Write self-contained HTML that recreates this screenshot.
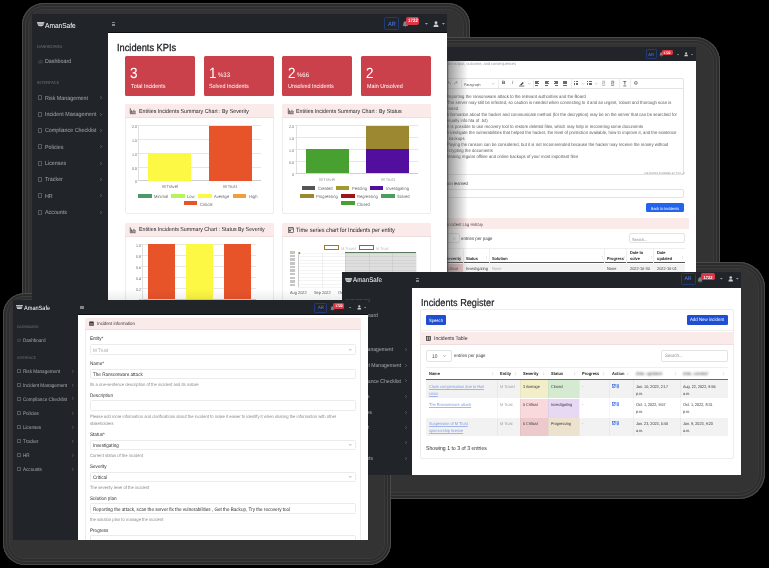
<!DOCTYPE html><html><head><meta charset="utf-8"><style>
html,body{margin:0;padding:0;background:#000;width:769px;height:568px;overflow:hidden;}
body{position:relative;font-family:"Liberation Sans",sans-serif;}
div{position:absolute;box-sizing:border-box;}
.t{white-space:nowrap;text-rendering:geometricPrecision;}
.fr{background:#333;box-shadow:inset 0 0 0 1px #4a4a4a, inset 0 0 0 3px #2c2c2c, inset 0 0 0 4px #3e3e3e, inset 0 0 0 6px #2e2e2e, inset 0 0 0 7px #3a3a3a;}
.scr{overflow:hidden;background:#fff;}
svg{position:absolute;overflow:visible;}
</style></head><body>

<div class="fr" style="left:22px;top:3px;width:448px;height:317px;border-radius:22px"></div>
<div class="fr" style="left:400px;top:37px;width:320px;height:263px;border-radius:25px"></div>
<div class="fr" style="left:300px;top:262px;width:465px;height:237px;border-radius:26px"></div>
<div class="fr" style="left:3px;top:292.5px;width:388px;height:272.5px;border-radius:22px"></div>
<div class="scr" style="left:420px;top:47px;width:275.5px;height:225px">
<div style="left:0.00px;top:0.00px;width:275.50px;height:14.00px;background:#212529"></div>
<div style="left:225.60px;top:2.40px;width:11.70px;height:9.50px;border:0.67px solid #22397a;border-radius:1.14px"></div>
<div class="t" style="left:81.45px;width:300px;text-align:center;top:5.99px;font-size:4.39px;line-height:4.39px;color:#4d7ff5;font-weight:normal;transform:scaleX(0.9091);transform-origin:50% 50%;">AR</div>
<svg style="left:239.39px;top:5.49px" width="4.75" height="4.75" viewBox="0 0 10 10"><path d="M5 0.5 C2.5 0.5 2 3 2 5 L1 7.5 H9 L8 5 C8 3 7.5 0.5 5 0.5 Z M4 8.3 H6 L5 9.8 Z" fill="#80858b"/></svg>
<div style="left:242.00px;top:2.68px;width:10.80px;height:5.23px;background:#dc3545;border-radius:1.43px"></div>
<div class="t" style="left:97.40px;width:300px;text-align:center;top:5.03px;font-size:3.45px;line-height:3.45px;color:#fff;font-weight:bold;transform:scaleX(0.9091);transform-origin:50% 50%;">1722</div>
<svg style="left:257.16px;top:6.67px" width="2.09" height="1.24" viewBox="0 0 6 3.5"><path d="M0 0 H6 L3 3.5 Z" fill="#9ea3a8"/></svg>
<svg style="left:270.75px;top:6.67px" width="2.09" height="1.24" viewBox="0 0 6 3.5"><path d="M0 0 H6 L3 3.5 Z" fill="#9ea3a8"/></svg>
<svg style="left:264.26px;top:5.01px" width="4.28" height="4.28" viewBox="0 0 10 10"><circle cx="5" cy="2.8" r="2.4" fill="#c8ccd0"/><path d="M0.8 10 C0.8 6.5 2.5 5.8 5 5.8 C7.5 5.8 9.2 6.5 9.2 10 Z" fill="#c8ccd0"/></svg>
<div class="t" style="left:27.50px;top:15.18px;font-size:4.29px;line-height:4.29px;color:#9a9a9a;font-weight:normal;transform:scaleX(0.9091);transform-origin:0 50%;">an output, outcome, and consequences</div>
<div class="t" style="left:25.00px;top:25.03px;font-size:4.62px;line-height:4.62px;color:#333;font-weight:normal;transform:scaleX(0.9091);transform-origin:0 50%;">e</div>
<div style="left:10.00px;top:31.00px;width:254.30px;height:97.00px;border:0.6px solid #e3e3e3;border-radius:2px"></div>
<div style="left:10.00px;top:31.00px;width:254.30px;height:10.50px;border-bottom:0.6px solid #e3e3e3"></div>
<svg style="left:26.50px;top:33.80px" width="4" height="4" viewBox="0 0 8 8"><path d="M7 7 C7 3.5 5 2.5 2 2.5 M3.5 0.8 L1.5 2.5 L3.5 4.2" stroke="#666" stroke-width="1" fill="none"/></svg>
<svg style="left:33.50px;top:33.80px" width="4" height="4" viewBox="0 0 8 8"><path d="M1 7 C1 3.5 3 2.5 6 2.5 M4.5 0.8 L6.5 2.5 L4.5 4.2" stroke="#666" stroke-width="1" fill="none"/></svg>
<div style="left:40.50px;top:31.30px;width:0.50px;height:9.90px;background:#ececec"></div>
<div class="t" style="left:43.90px;top:35.86px;font-size:3.91px;line-height:3.91px;color:#555;font-weight:normal;transform:scaleX(0.9091);transform-origin:0 50%;">Paragraph</div>
<svg style="left:72.40px;top:35.52px" width="2.60" height="1.56" viewBox="0 0 6 3.6"><path d="M0.5 0.5 L3 3 L5.5 0.5" stroke="#777" stroke-width="0.9" fill="none"/></svg>
<div style="left:77.70px;top:31.30px;width:0.50px;height:9.90px;background:#ececec"></div>
<div class="t" style="left:82.20px;top:35.43px;font-size:4.84px;line-height:4.84px;color:#444;font-weight:bold;transform:scaleX(0.9091);transform-origin:0 50%;">B</div>
<div class="t" style="left:92.00px;top:35.43px;font-size:4.84px;line-height:4.84px;color:#444;font-weight:normal;transform:scaleX(0.9091);transform-origin:0 50%;font-style:italic">I</div>
<svg style="left:99.00px;top:33.50px" width="5.3" height="5.5" viewBox="0 0 10 10"><path d="M2 7 L7 1.5 L9 3.5 L4 8.5 Z" fill="#444"/><rect x="0" y="8.6" width="10" height="1.4" fill="#444"/></svg>
<svg style="left:107.60px;top:35.52px" width="2.60" height="1.56" viewBox="0 0 6 3.6"><path d="M0.5 0.5 L3 3 L5.5 0.5" stroke="#777" stroke-width="0.9" fill="none"/></svg>
<div style="left:112.80px;top:31.30px;width:0.50px;height:9.90px;background:#ececec"></div>
<div style="left:115.30px;top:34.00px;width:4.20px;height:0.60px;background:#6a6a6a"></div>
<div style="left:115.30px;top:35.20px;width:2.80px;height:0.60px;background:#6a6a6a"></div>
<div style="left:115.30px;top:36.40px;width:4.20px;height:0.60px;background:#6a6a6a"></div>
<div style="left:115.30px;top:37.60px;width:2.80px;height:0.60px;background:#6a6a6a"></div>
<div style="left:124.60px;top:34.00px;width:4.20px;height:0.60px;background:#6a6a6a"></div>
<div style="left:125.30px;top:35.20px;width:2.80px;height:0.60px;background:#6a6a6a"></div>
<div style="left:124.60px;top:36.40px;width:4.20px;height:0.60px;background:#6a6a6a"></div>
<div style="left:125.30px;top:37.60px;width:2.80px;height:0.60px;background:#6a6a6a"></div>
<div style="left:134.00px;top:34.00px;width:4.20px;height:0.60px;background:#6a6a6a"></div>
<div style="left:135.40px;top:35.20px;width:2.80px;height:0.60px;background:#6a6a6a"></div>
<div style="left:134.00px;top:36.40px;width:4.20px;height:0.60px;background:#6a6a6a"></div>
<div style="left:135.40px;top:37.60px;width:2.80px;height:0.60px;background:#6a6a6a"></div>
<div style="left:143.30px;top:34.00px;width:4.20px;height:0.60px;background:#6a6a6a"></div>
<div style="left:143.30px;top:35.20px;width:4.20px;height:0.60px;background:#6a6a6a"></div>
<div style="left:143.30px;top:36.40px;width:4.20px;height:0.60px;background:#6a6a6a"></div>
<div style="left:143.30px;top:37.60px;width:4.20px;height:0.60px;background:#6a6a6a"></div>
<div style="left:150.60px;top:31.30px;width:0.50px;height:9.90px;background:#ececec"></div>
<div style="left:154.00px;top:34.20px;width:0.80px;height:0.70px;background:#6a6a6a"></div>
<div style="left:155.60px;top:34.20px;width:2.70px;height:0.70px;background:#6a6a6a"></div>
<div style="left:154.00px;top:35.70px;width:0.80px;height:0.70px;background:#6a6a6a"></div>
<div style="left:155.60px;top:35.70px;width:2.70px;height:0.70px;background:#6a6a6a"></div>
<div style="left:154.00px;top:37.20px;width:0.80px;height:0.70px;background:#6a6a6a"></div>
<div style="left:155.60px;top:37.20px;width:2.70px;height:0.70px;background:#6a6a6a"></div>
<svg style="left:161.50px;top:35.52px" width="2.60" height="1.56" viewBox="0 0 6 3.6"><path d="M0.5 0.5 L3 3 L5.5 0.5" stroke="#777" stroke-width="0.9" fill="none"/></svg>
<div style="left:167.30px;top:34.20px;width:0.80px;height:0.70px;background:#6a6a6a"></div>
<div style="left:168.90px;top:34.20px;width:2.70px;height:0.70px;background:#6a6a6a"></div>
<div style="left:167.30px;top:35.70px;width:0.80px;height:0.70px;background:#6a6a6a"></div>
<div style="left:168.90px;top:35.70px;width:2.70px;height:0.70px;background:#6a6a6a"></div>
<div style="left:167.30px;top:37.20px;width:0.80px;height:0.70px;background:#6a6a6a"></div>
<div style="left:168.90px;top:37.20px;width:2.70px;height:0.70px;background:#6a6a6a"></div>
<svg style="left:174.80px;top:35.52px" width="2.60" height="1.56" viewBox="0 0 6 3.6"><path d="M0.5 0.5 L3 3 L5.5 0.5" stroke="#777" stroke-width="0.9" fill="none"/></svg>
<svg style="left:181.90px;top:34.00px" width="3.2" height="4.6" viewBox="0 0 6 9"><path d="M0 0.5 H6 M3 3 H6 M3 5.5 H6 M0 8.5 H6 M2 2.8 L0 4.5 L2 6.2" stroke="#777" stroke-width="1" fill="none"/></svg>
<svg style="left:191.30px;top:34.00px" width="3.2" height="4.6" viewBox="0 0 6 9"><path d="M0 0.5 H6 M3 3 H6 M3 5.5 H6 M0 8.5 H6 M0 2.8 L2 4.5 L0 6.2" stroke="#444" stroke-width="1.2" fill="none"/></svg>
<div style="left:198.50px;top:31.30px;width:0.50px;height:9.90px;background:#ececec"></div>
<svg style="left:202.50px;top:33.60px" width="3.6" height="5.4" viewBox="0 0 6 9"><path d="M0.5 0.8 H5.5 M3 0.8 V6 M0.5 8.2 H5.5" stroke="#444" stroke-width="1.2" fill="none"/></svg>
<div style="left:209.60px;top:31.30px;width:0.50px;height:9.90px;background:#ececec"></div>
<svg style="left:214.00px;top:34.20px" width="3.8" height="3.8" viewBox="0 0 10 10"><circle cx="5" cy="5" r="4" stroke="#444" stroke-width="1.4" fill="none"/><path d="M2.5 5.5 H7.5" stroke="#444" stroke-width="1.2"/></svg>
<div class="t" style="left:26.20px;top:48.12px;font-size:4.64px;line-height:4.64px;color:#555;font-weight:normal;transform:scaleX(0.9091);transform-origin:0 50%;letter-spacing:0.03px">Reporting the ransomware attack to the relevant authorities and the Board</div>
<div class="t" style="left:26.50px;top:54.09px;font-size:4.64px;line-height:4.64px;color:#555;font-weight:normal;transform:scaleX(0.9091);transform-origin:0 50%;letter-spacing:0.03px">The server may still be infected, so caution is needed when connecting to it and an urgent, robust and thorough scan is</div>
<div class="t" style="left:23.50px;top:60.06px;font-size:4.64px;line-height:4.64px;color:#555;font-weight:normal;transform:scaleX(0.9091);transform-origin:0 50%;letter-spacing:0.03px">needed</div>
<div class="t" style="left:26.50px;top:66.03px;font-size:4.64px;line-height:4.64px;color:#555;font-weight:normal;transform:scaleX(0.9091);transform-origin:0 50%;letter-spacing:0.03px">Information about the hacker and communicate method (for the decryption) may be on the server that can be searched for</div>
<div class="t" style="left:26.00px;top:72.00px;font-size:4.64px;line-height:4.64px;color:#555;font-weight:normal;transform:scaleX(0.9091);transform-origin:0 50%;letter-spacing:0.03px">usually info.hta of .txt)</div>
<div class="t" style="left:27.00px;top:77.97px;font-size:4.64px;line-height:4.64px;color:#555;font-weight:normal;transform:scaleX(0.9091);transform-origin:0 50%;letter-spacing:0.03px">It is possible to use recovery tool to restore deleted files, which may help in recovering some documents</div>
<div class="t" style="left:26.50px;top:83.94px;font-size:4.64px;line-height:4.64px;color:#555;font-weight:normal;transform:scaleX(0.9091);transform-origin:0 50%;letter-spacing:0.03px">Investigate the vulnerabilities that helped the hacker, the level of protection available, how to improve it, and the existence</div>
<div class="t" style="left:24.00px;top:89.91px;font-size:4.64px;line-height:4.64px;color:#555;font-weight:normal;transform:scaleX(0.9091);transform-origin:0 50%;letter-spacing:0.03px">of backups</div>
<div class="t" style="left:26.50px;top:95.88px;font-size:4.64px;line-height:4.64px;color:#555;font-weight:normal;transform:scaleX(0.9091);transform-origin:0 50%;letter-spacing:0.03px">Paying the ransom can be considered, but it is not recommended because the hacker may receive the money without</div>
<div class="t" style="left:24.00px;top:101.85px;font-size:4.64px;line-height:4.64px;color:#555;font-weight:normal;transform:scaleX(0.9091);transform-origin:0 50%;letter-spacing:0.03px">decrypting the documents</div>
<div class="t" style="left:26.50px;top:107.82px;font-size:4.64px;line-height:4.64px;color:#555;font-weight:normal;transform:scaleX(0.9091);transform-origin:0 50%;letter-spacing:0.03px">Making regular offline and online  backups of your most important files</div>
<div class="t" style="left:-39.00px;width:300px;text-align:right;top:126.16px;font-size:2.64px;line-height:2.64px;color:#888;font-weight:normal;transform:scaleX(0.9091);transform-origin:100% 50%;">108 WORDS POWERED BY TINY</div>
<svg style="left:261.5px;top:124.5px" width="2.5" height="2.5" viewBox="0 0 5 5"><path d="M5 0 L0 5 M5 2.5 L2.5 5" stroke="#777" stroke-width="0.8"/></svg>
<div class="t" style="left:26.00px;top:135.03px;font-size:4.62px;line-height:4.62px;color:#333;font-weight:normal;transform:scaleX(0.9091);transform-origin:0 50%;">son learned</div>
<div style="left:10.00px;top:141.60px;width:254.30px;height:9.50px;border:0.6px solid #e3e3e3;border-radius:2px"></div>
<div style="left:225.60px;top:155.80px;width:38.70px;height:9.50px;background:#2463eb;border-radius:1.5px"></div>
<div class="t" style="left:95.00px;width:300px;text-align:center;top:160.09px;font-size:4.07px;line-height:4.07px;color:#fff;font-weight:normal;transform:scaleX(0.9091);transform-origin:50% 50%;">Back to Incidents</div>
<div style="left:0.00px;top:171.20px;width:268.50px;height:10.40px;background:#fbeaea"></div>
<div class="t" style="left:26.50px;top:175.78px;font-size:4.51px;line-height:4.51px;color:#444;font-weight:normal;transform:scaleX(0.9091);transform-origin:0 50%;">Incident Log History</div>
<div style="left:10.00px;top:186.30px;width:29.50px;height:10.20px;border:0.6px solid #e3e3e3;border-radius:2px"></div>
<svg style="left:33.20px;top:190.72px" width="2.60" height="1.56" viewBox="0 0 6 3.6"><path d="M0.5 0.5 L3 3 L5.5 0.5" stroke="#777" stroke-width="0.9" fill="none"/></svg>
<div class="t" style="left:41.30px;top:190.85px;font-size:4.80px;line-height:4.80px;color:#333;font-weight:normal;transform:scaleX(0.9091);transform-origin:0 50%;">entries per page</div>
<div style="left:208.70px;top:186.20px;width:55.90px;height:10.30px;border:0.6px solid #e3e3e3;border-radius:2px"></div>
<div class="t" style="left:212.00px;top:190.94px;font-size:4.18px;line-height:4.18px;color:#888;font-weight:normal;transform:scaleX(0.9091);transform-origin:0 50%;">Search...</div>
<div style="left:10.00px;top:200.80px;width:254.60px;height:15.60px;border-top:0.5px solid #eee;border-bottom:1px solid #555"></div>
<div style="left:42.90px;top:200.80px;width:0.50px;height:24.20px;background:#eee"></div>
<div style="left:68.90px;top:200.80px;width:0.50px;height:24.20px;background:#eee"></div>
<div style="left:184.30px;top:200.80px;width:0.50px;height:24.20px;background:#eee"></div>
<div style="left:206.00px;top:200.80px;width:0.50px;height:24.20px;background:#eee"></div>
<div style="left:233.00px;top:200.80px;width:0.50px;height:24.20px;background:#eee"></div>
<div class="t" style="left:26.00px;top:209.78px;font-size:4.29px;line-height:4.29px;color:#222;font-weight:bold;transform:scaleX(0.9091);transform-origin:0 50%;">Severity</div>
<div class="t" style="left:45.50px;top:209.78px;font-size:4.29px;line-height:4.29px;color:#222;font-weight:bold;transform:scaleX(0.9091);transform-origin:0 50%;">Status</div>
<div class="t" style="left:71.50px;top:209.78px;font-size:4.29px;line-height:4.29px;color:#222;font-weight:bold;transform:scaleX(0.9091);transform-origin:0 50%;">Solution</div>
<div class="t" style="left:186.60px;top:209.78px;font-size:4.29px;line-height:4.29px;color:#222;font-weight:bold;transform:scaleX(0.9091);transform-origin:0 50%;">Progress</div>
<div class="t" style="left:210.30px;top:204.18px;font-size:4.29px;line-height:4.29px;color:#222;font-weight:bold;transform:scaleX(0.9091);transform-origin:0 50%;">Date to</div>
<div class="t" style="left:210.30px;top:209.98px;font-size:4.29px;line-height:4.29px;color:#222;font-weight:bold;transform:scaleX(0.9091);transform-origin:0 50%;">solve</div>
<div class="t" style="left:237.00px;top:204.18px;font-size:4.29px;line-height:4.29px;color:#222;font-weight:bold;transform:scaleX(0.9091);transform-origin:0 50%;">Date</div>
<div class="t" style="left:237.00px;top:209.98px;font-size:4.29px;line-height:4.29px;color:#222;font-weight:bold;transform:scaleX(0.9091);transform-origin:0 50%;">updated</div>
<svg style="left:40.37px;top:209.10px" width="1.26" height="2.80" viewBox="0 0 4 9"><path d="M0 3.2 L2 0.5 L4 3.2 Z M0 5.8 L2 8.5 L4 5.8 Z" fill="#c0c0c0"/></svg>
<svg style="left:66.37px;top:209.10px" width="1.26" height="2.80" viewBox="0 0 4 9"><path d="M0 3.2 L2 0.5 L4 3.2 Z M0 5.8 L2 8.5 L4 5.8 Z" fill="#c0c0c0"/></svg>
<svg style="left:181.87px;top:209.10px" width="1.26" height="2.80" viewBox="0 0 4 9"><path d="M0 3.2 L2 0.5 L4 3.2 Z M0 5.8 L2 8.5 L4 5.8 Z" fill="#c0c0c0"/></svg>
<svg style="left:203.87px;top:209.10px" width="1.26" height="2.80" viewBox="0 0 4 9"><path d="M0 3.2 L2 0.5 L4 3.2 Z M0 5.8 L2 8.5 L4 5.8 Z" fill="#c0c0c0"/></svg>
<svg style="left:230.87px;top:209.10px" width="1.26" height="2.80" viewBox="0 0 4 9"><path d="M0 3.2 L2 0.5 L4 3.2 Z M0 5.8 L2 8.5 L4 5.8 Z" fill="#c0c0c0"/></svg>
<svg style="left:262.37px;top:209.10px" width="1.26" height="2.80" viewBox="0 0 4 9"><path d="M0 3.2 L2 0.5 L4 3.2 Z M0 5.8 L2 8.5 L4 5.8 Z" fill="#c0c0c0"/></svg>
<div style="left:10.00px;top:216.80px;width:254.60px;height:8.20px;background:#f2f2f2"></div>
<div style="left:10.00px;top:216.80px;width:32.90px;height:8.20px;background:#eccaca"></div>
<div class="t" style="left:26.00px;top:219.88px;font-size:4.29px;line-height:4.29px;color:#444;font-weight:normal;transform:scaleX(0.9091);transform-origin:0 50%;">Critical</div>
<div class="t" style="left:45.50px;top:219.88px;font-size:4.29px;line-height:4.29px;color:#444;font-weight:normal;transform:scaleX(0.9091);transform-origin:0 50%;">Investigating</div>
<div class="t" style="left:71.50px;top:219.88px;font-size:4.29px;line-height:4.29px;color:#aaa;font-weight:normal;transform:scaleX(0.9091);transform-origin:0 50%;">None</div>
<div class="t" style="left:186.60px;top:219.88px;font-size:4.29px;line-height:4.29px;color:#444;font-weight:normal;transform:scaleX(0.9091);transform-origin:0 50%;">None</div>
<div class="t" style="left:210.30px;top:219.88px;font-size:4.29px;line-height:4.29px;color:#444;font-weight:normal;transform:scaleX(0.9091);transform-origin:0 50%;">2022-10-30</div>
<div class="t" style="left:237.00px;top:219.88px;font-size:4.29px;line-height:4.29px;color:#444;font-weight:normal;transform:scaleX(0.9091);transform-origin:0 50%;">2022-10-01</div>
<div style="left:0.00px;top:14.00px;width:55.00px;height:211.00px;background:linear-gradient(to right, rgba(40,40,40,0.85) 0px, rgba(40,40,40,0.85) 27px, rgba(80,80,80,0.55) 29px, rgba(255,255,255,0) 48px)"></div>
</div>
<div class="scr" style="left:32px;top:14px;width:415px;height:286.3px">
<div style="left:0.00px;top:0.00px;width:415.00px;height:18.50px;background:#212529;border-bottom:0.7px solid #0e0f11"></div>
<div style="left:0.00px;top:0.00px;width:76.20px;height:286.30px;background:#212529"></div>
<svg style="left:5.00px;top:7.62px" width="7.35" height="4.76" viewBox="0 0 10 6.5"><path d="M0 0.3 H10 V1.6 H0 Z M0.6 2.2 H9.4 L8.6 4.6 C7.5 6.3 2.5 6.3 1.4 4.6 Z" fill="#f0f0f0"/><path d="M1.2 3.2 H8.8 M1.8 4.2 H8.2" stroke="#212529" stroke-width="0.45"/></svg>
<div class="t" style="left:13.30px;top:7.99px;font-size:7.26px;line-height:7.26px;color:#fff;font-weight:normal;transform:scaleX(0.9091);transform-origin:0 50%;">AmanSafe</div>
<div style="left:79.50px;top:8.25px;width:3.67px;height:0.91px;background:#80858a"></div>
<div style="left:79.50px;top:9.55px;width:3.67px;height:0.91px;background:#80858a"></div>
<div style="left:79.50px;top:10.84px;width:3.67px;height:0.91px;background:#80858a"></div>
<div style="left:352.00px;top:3.00px;width:15.00px;height:13.40px;border:0.94px solid #22397a;border-radius:1.61px"></div>
<div class="t" style="left:209.50px;width:300px;text-align:center;top:7.69px;font-size:6.19px;line-height:6.19px;color:#4d7ff5;font-weight:normal;transform:scaleX(0.9091);transform-origin:50% 50%;">AR</div>
<svg style="left:370.12px;top:7.36px" width="6.70" height="6.70" viewBox="0 0 10 10"><path d="M5 0.5 C2.5 0.5 2 3 2 5 L1 7.5 H9 L8 5 C8 3 7.5 0.5 5 0.5 Z M4 8.3 H6 L5 9.8 Z" fill="#80858b"/></svg>
<div style="left:373.80px;top:3.40px;width:13.70px;height:7.37px;background:#dc3545;border-radius:2.01px"></div>
<div class="t" style="left:230.65px;width:300px;text-align:center;top:6.13px;font-size:4.86px;line-height:4.86px;color:#fff;font-weight:bold;transform:scaleX(0.9091);transform-origin:50% 50%;">1722</div>
<svg style="left:392.53px;top:9.03px" width="2.95" height="1.74" viewBox="0 0 6 3.5"><path d="M0 0 H6 L3 3.5 Z" fill="#9ea3a8"/></svg>
<svg style="left:409.53px;top:9.03px" width="2.95" height="1.74" viewBox="0 0 6 3.5"><path d="M0 0 H6 L3 3.5 Z" fill="#9ea3a8"/></svg>
<svg style="left:401.49px;top:6.68px" width="6.03" height="6.03" viewBox="0 0 10 10"><circle cx="5" cy="2.8" r="2.4" fill="#c8ccd0"/><path d="M0.8 10 C0.8 6.5 2.5 5.8 5 5.8 C7.5 5.8 9.2 6.5 9.2 10 Z" fill="#c8ccd0"/></svg>
<div class="t" style="left:5.00px;top:31.23px;font-size:4.40px;line-height:4.40px;color:rgba(255,255,255,0.32);font-weight:normal;transform:scaleX(0.9091);transform-origin:0 50%;">DASHBOARD</div>
<svg style="left:5.50px;top:45.15px" width="4.81" height="4.49" viewBox="0 0 10 9"><path d="M1 8 A4.2 4.2 0 1 1 9 8 Z" fill="none" stroke="#565a5f" stroke-width="1.3"/><path d="M5 7 L7 3.5" stroke="#565a5f" stroke-width="1.1"/></svg>
<div class="t" style="left:13.33px;top:46.03px;font-size:5.88px;line-height:5.88px;color:rgba(255,255,255,0.56);font-weight:normal;transform:scaleX(0.9091);transform-origin:0 50%;">Dashboard</div>
<div class="t" style="left:5.00px;top:67.33px;font-size:4.40px;line-height:4.40px;color:rgba(255,255,255,0.32);font-weight:normal;transform:scaleX(0.9091);transform-origin:0 50%;">INTERFACE</div>
<div style="left:5.50px;top:81.34px;width:4.92px;height:4.92px;border:0.70px solid #565a5f;border-radius:0.64px"></div>
<div class="t" style="left:12.80px;top:82.53px;font-size:5.88px;line-height:5.88px;color:rgba(255,255,255,0.56);font-weight:normal;transform:scaleX(0.9091);transform-origin:0 50%;">Risk Management</div>
<svg style="left:68.40px;top:82.19px" width="2.03" height="3.21" viewBox="0 0 3.8 6"><path d="M0.6 0.5 L3.1 3 L0.6 5.5" stroke="#9a9ea2" stroke-width="0.9" fill="none"/></svg>
<div style="left:5.50px;top:97.84px;width:4.92px;height:4.92px;border:0.70px solid #565a5f;border-radius:0.64px"></div>
<div class="t" style="left:12.80px;top:99.03px;font-size:5.88px;line-height:5.88px;color:rgba(255,255,255,0.56);font-weight:normal;transform:scaleX(0.9091);transform-origin:0 50%;">Incident Management</div>
<svg style="left:68.40px;top:98.69px" width="2.03" height="3.21" viewBox="0 0 3.8 6"><path d="M0.6 0.5 L3.1 3 L0.6 5.5" stroke="#9a9ea2" stroke-width="0.9" fill="none"/></svg>
<div style="left:5.50px;top:113.84px;width:4.92px;height:4.92px;border:0.70px solid #565a5f;border-radius:0.64px"></div>
<div class="t" style="left:12.80px;top:115.03px;font-size:5.88px;line-height:5.88px;color:rgba(255,255,255,0.56);font-weight:normal;transform:scaleX(0.9091);transform-origin:0 50%;">Compliance Checklist</div>
<svg style="left:68.40px;top:114.70px" width="2.03" height="3.21" viewBox="0 0 3.8 6"><path d="M0.6 0.5 L3.1 3 L0.6 5.5" stroke="#9a9ea2" stroke-width="0.9" fill="none"/></svg>
<div style="left:5.50px;top:130.34px;width:4.92px;height:4.92px;border:0.70px solid #565a5f;border-radius:0.64px"></div>
<div class="t" style="left:12.80px;top:131.53px;font-size:5.88px;line-height:5.88px;color:rgba(255,255,255,0.56);font-weight:normal;transform:scaleX(0.9091);transform-origin:0 50%;">Policies</div>
<svg style="left:68.40px;top:131.20px" width="2.03" height="3.21" viewBox="0 0 3.8 6"><path d="M0.6 0.5 L3.1 3 L0.6 5.5" stroke="#9a9ea2" stroke-width="0.9" fill="none"/></svg>
<div style="left:5.50px;top:146.84px;width:4.92px;height:4.92px;border:0.70px solid #565a5f;border-radius:0.64px"></div>
<div class="t" style="left:12.80px;top:148.03px;font-size:5.88px;line-height:5.88px;color:rgba(255,255,255,0.56);font-weight:normal;transform:scaleX(0.9091);transform-origin:0 50%;">Licenses</div>
<svg style="left:68.40px;top:147.70px" width="2.03" height="3.21" viewBox="0 0 3.8 6"><path d="M0.6 0.5 L3.1 3 L0.6 5.5" stroke="#9a9ea2" stroke-width="0.9" fill="none"/></svg>
<div style="left:5.50px;top:162.84px;width:4.92px;height:4.92px;border:0.70px solid #565a5f;border-radius:0.64px"></div>
<div class="t" style="left:12.80px;top:164.03px;font-size:5.88px;line-height:5.88px;color:rgba(255,255,255,0.56);font-weight:normal;transform:scaleX(0.9091);transform-origin:0 50%;">Tracker</div>
<svg style="left:68.40px;top:163.70px" width="2.03" height="3.21" viewBox="0 0 3.8 6"><path d="M0.6 0.5 L3.1 3 L0.6 5.5" stroke="#9a9ea2" stroke-width="0.9" fill="none"/></svg>
<div style="left:5.50px;top:179.34px;width:4.92px;height:4.92px;border:0.70px solid #565a5f;border-radius:0.64px"></div>
<div class="t" style="left:12.80px;top:180.53px;font-size:5.88px;line-height:5.88px;color:rgba(255,255,255,0.56);font-weight:normal;transform:scaleX(0.9091);transform-origin:0 50%;">HR</div>
<svg style="left:68.40px;top:180.20px" width="2.03" height="3.21" viewBox="0 0 3.8 6"><path d="M0.6 0.5 L3.1 3 L0.6 5.5" stroke="#9a9ea2" stroke-width="0.9" fill="none"/></svg>
<div style="left:5.50px;top:195.84px;width:4.92px;height:4.92px;border:0.70px solid #565a5f;border-radius:0.64px"></div>
<div class="t" style="left:12.80px;top:197.03px;font-size:5.88px;line-height:5.88px;color:rgba(255,255,255,0.56);font-weight:normal;transform:scaleX(0.9091);transform-origin:0 50%;">Accounts</div>
<svg style="left:68.40px;top:196.70px" width="2.03" height="3.21" viewBox="0 0 3.8 6"><path d="M0.6 0.5 L3.1 3 L0.6 5.5" stroke="#9a9ea2" stroke-width="0.9" fill="none"/></svg>
<div class="t" style="left:85.10px;top:30.02px;font-size:10.18px;line-height:10.18px;color:#212529;font-weight:normal;transform:scaleX(0.9091);transform-origin:0 50%;-webkit-text-stroke:0.3px #212529">Incidents KPIs</div>
<div style="left:92.80px;top:41.80px;width:70.20px;height:39.90px;background:#ca414b;border-radius:1.5px"></div>
<div class="t" style="left:98.40px;top:53.02px;font-size:14.85px;line-height:14.85px;color:#fff;font-weight:normal;transform:scaleX(0.9091);transform-origin:0 50%;">3</div>
<div class="t" style="left:98.60px;top:70.81px;font-size:5.94px;line-height:5.94px;color:#fff;font-weight:normal;transform:scaleX(0.9091);transform-origin:0 50%;">Total Incidents</div>
<div style="left:171.50px;top:41.80px;width:70.20px;height:39.90px;background:#ca414b;border-radius:1.5px"></div>
<div class="t" style="left:177.10px;top:53.02px;font-size:14.85px;line-height:14.85px;color:#fff;font-weight:normal;transform:scaleX(0.9091);transform-origin:0 50%;">1</div>
<div class="t" style="left:186.30px;top:59.30px;font-size:6.60px;line-height:6.60px;color:#fff;font-weight:normal;transform:scaleX(0.9091);transform-origin:0 50%;">%33</div>
<div class="t" style="left:177.30px;top:70.81px;font-size:5.94px;line-height:5.94px;color:#fff;font-weight:normal;transform:scaleX(0.9091);transform-origin:0 50%;">Solved Incidents</div>
<div style="left:250.20px;top:41.80px;width:70.20px;height:39.90px;background:#ca414b;border-radius:1.5px"></div>
<div class="t" style="left:255.80px;top:53.02px;font-size:14.85px;line-height:14.85px;color:#fff;font-weight:normal;transform:scaleX(0.9091);transform-origin:0 50%;">2</div>
<div class="t" style="left:265.00px;top:59.30px;font-size:6.60px;line-height:6.60px;color:#fff;font-weight:normal;transform:scaleX(0.9091);transform-origin:0 50%;">%66</div>
<div class="t" style="left:256.00px;top:70.81px;font-size:5.94px;line-height:5.94px;color:#fff;font-weight:normal;transform:scaleX(0.9091);transform-origin:0 50%;">Unsolved Incidents</div>
<div style="left:328.80px;top:41.80px;width:70.20px;height:39.90px;background:#ca414b;border-radius:1.5px"></div>
<div class="t" style="left:334.40px;top:53.02px;font-size:14.85px;line-height:14.85px;color:#fff;font-weight:normal;transform:scaleX(0.9091);transform-origin:0 50%;">2</div>
<div class="t" style="left:334.60px;top:70.81px;font-size:5.94px;line-height:5.94px;color:#fff;font-weight:normal;transform:scaleX(0.9091);transform-origin:0 50%;">Main Unsolved</div>
<div style="left:93.20px;top:90.30px;width:148.40px;height:110.10px;border:0.6px solid #ececec;border-radius:2px;background:#fff"></div>
<div style="left:93.20px;top:90.30px;width:148.40px;height:13.50px;background:#fbeaea;border-bottom:0.6px solid #f0dede;border-radius:2px 2px 0 0"></div>
<svg style="left:98.00px;top:94.05px" width="6.00" height="6.00" viewBox="0 0 10 10"><path d="M0.5 0.5 V9.5 H9.5" stroke="#333" stroke-width="1.2" fill="none"/><path d="M2.5 8 V4 M4.5 8 V5.5 M6.5 8 V3 M8.5 8 V5" stroke="#333" stroke-width="1.3"/></svg>
<div class="t" style="left:106.70px;top:95.95px;font-size:5.84px;line-height:5.84px;color:#212529;font-weight:normal;transform:scaleX(0.9091);transform-origin:0 50%;">Entities Incidents Summary Chart : By Severity</div>
<div style="left:105.20px;top:111.20px;width:123.50px;height:0.60px;background:#e6e6e6"></div>
<div class="t" style="left:-195.30px;width:300px;text-align:right;top:111.04px;font-size:3.96px;line-height:3.96px;color:#666;font-weight:normal;transform:scaleX(0.9091);transform-origin:100% 50%;">2.0</div>
<div style="left:105.20px;top:125.00px;width:123.50px;height:0.60px;background:#e6e6e6"></div>
<div class="t" style="left:-195.30px;width:300px;text-align:right;top:124.84px;font-size:3.96px;line-height:3.96px;color:#666;font-weight:normal;transform:scaleX(0.9091);transform-origin:100% 50%;">1.5</div>
<div style="left:105.20px;top:139.00px;width:123.50px;height:0.60px;background:#e6e6e6"></div>
<div class="t" style="left:-195.30px;width:300px;text-align:right;top:138.84px;font-size:3.96px;line-height:3.96px;color:#666;font-weight:normal;transform:scaleX(0.9091);transform-origin:100% 50%;">1.0</div>
<div style="left:105.20px;top:152.90px;width:123.50px;height:0.60px;background:#e6e6e6"></div>
<div class="t" style="left:-195.30px;width:300px;text-align:right;top:152.74px;font-size:3.96px;line-height:3.96px;color:#666;font-weight:normal;transform:scaleX(0.9091);transform-origin:100% 50%;">0.5</div>
<div style="left:105.20px;top:166.40px;width:123.50px;height:0.60px;background:#e6e6e6"></div>
<div class="t" style="left:-195.30px;width:300px;text-align:right;top:166.24px;font-size:3.96px;line-height:3.96px;color:#666;font-weight:normal;transform:scaleX(0.9091);transform-origin:100% 50%;">0</div>
<div style="left:106.40px;top:111.50px;width:0.60px;height:55.20px;background:#e0e0e0"></div>
<div style="left:106.70px;top:166.30px;width:122.00px;height:0.80px;background:#cfcfcf"></div>
<div style="left:115.80px;top:139.30px;width:43.70px;height:27.40px;background:#fdf843"></div>
<div style="left:176.80px;top:111.50px;width:43.30px;height:55.20px;background:#e8542a"></div>
<div class="t" style="left:-12.00px;width:300px;text-align:center;top:170.88px;font-size:4.51px;line-height:4.51px;color:#666;font-weight:normal;transform:scaleX(0.9091);transform-origin:50% 50%;">M Travel</div>
<div class="t" style="left:48.20px;width:300px;text-align:center;top:170.88px;font-size:4.51px;line-height:4.51px;color:#666;font-weight:normal;transform:scaleX(0.9091);transform-origin:50% 50%;">M Trust</div>
<div style="left:106.00px;top:179.90px;width:13.70px;height:4.20px;background:#4c9a6a"></div>
<div class="t" style="left:122.00px;top:181.28px;font-size:4.51px;line-height:4.51px;color:#666;font-weight:normal;transform:scaleX(0.9091);transform-origin:0 50%;">Minimal</div>
<div style="left:139.40px;top:179.90px;width:13.70px;height:4.20px;background:#b5f55a"></div>
<div class="t" style="left:155.00px;top:181.28px;font-size:4.51px;line-height:4.51px;color:#666;font-weight:normal;transform:scaleX(0.9091);transform-origin:0 50%;">Low</div>
<div style="left:166.40px;top:179.90px;width:13.70px;height:4.20px;background:#fdf843"></div>
<div class="t" style="left:182.20px;top:181.28px;font-size:4.51px;line-height:4.51px;color:#666;font-weight:normal;transform:scaleX(0.9091);transform-origin:0 50%;">Average</div>
<div style="left:200.80px;top:179.90px;width:13.70px;height:4.20px;background:#eea03a"></div>
<div class="t" style="left:216.90px;top:181.28px;font-size:4.51px;line-height:4.51px;color:#666;font-weight:normal;transform:scaleX(0.9091);transform-origin:0 50%;">High</div>
<div style="left:151.60px;top:187.30px;width:13.70px;height:4.20px;background:#e8542a"></div>
<div class="t" style="left:167.70px;top:188.68px;font-size:4.51px;line-height:4.51px;color:#666;font-weight:normal;transform:scaleX(0.9091);transform-origin:0 50%;">Critical</div>
<div style="left:250.30px;top:90.30px;width:148.70px;height:110.10px;border:0.6px solid #ececec;border-radius:2px;background:#fff"></div>
<div style="left:250.30px;top:90.30px;width:148.70px;height:13.50px;background:#fbeaea;border-bottom:0.6px solid #f0dede;border-radius:2px 2px 0 0"></div>
<svg style="left:255.50px;top:94.05px" width="6.00" height="6.00" viewBox="0 0 10 10"><path d="M0.5 0.5 V9.5 H9.5" stroke="#333" stroke-width="1.2" fill="none"/><path d="M2.5 8 V4 M4.5 8 V5.5 M6.5 8 V3 M8.5 8 V5" stroke="#333" stroke-width="1.3"/></svg>
<div class="t" style="left:264.20px;top:95.95px;font-size:5.84px;line-height:5.84px;color:#212529;font-weight:normal;transform:scaleX(0.9091);transform-origin:0 50%;">Entities Incidents Summary Chart : By Status</div>
<div style="left:262.90px;top:111.00px;width:122.70px;height:0.60px;background:#e6e6e6"></div>
<div class="t" style="left:-37.60px;width:300px;text-align:right;top:110.84px;font-size:3.96px;line-height:3.96px;color:#666;font-weight:normal;transform:scaleX(0.9091);transform-origin:100% 50%;">2.0</div>
<div style="left:262.90px;top:122.90px;width:122.70px;height:0.60px;background:#e6e6e6"></div>
<div class="t" style="left:-37.60px;width:300px;text-align:right;top:122.74px;font-size:3.96px;line-height:3.96px;color:#666;font-weight:normal;transform:scaleX(0.9091);transform-origin:100% 50%;">1.5</div>
<div style="left:262.90px;top:135.10px;width:122.70px;height:0.60px;background:#e6e6e6"></div>
<div class="t" style="left:-37.60px;width:300px;text-align:right;top:134.94px;font-size:3.96px;line-height:3.96px;color:#666;font-weight:normal;transform:scaleX(0.9091);transform-origin:100% 50%;">1.0</div>
<div style="left:262.90px;top:146.90px;width:122.70px;height:0.60px;background:#e6e6e6"></div>
<div class="t" style="left:-37.60px;width:300px;text-align:right;top:146.74px;font-size:3.96px;line-height:3.96px;color:#666;font-weight:normal;transform:scaleX(0.9091);transform-origin:100% 50%;">0.5</div>
<div style="left:262.90px;top:158.70px;width:122.70px;height:0.60px;background:#e6e6e6"></div>
<div class="t" style="left:-37.60px;width:300px;text-align:right;top:158.54px;font-size:3.96px;line-height:3.96px;color:#666;font-weight:normal;transform:scaleX(0.9091);transform-origin:100% 50%;">0</div>
<div style="left:264.10px;top:111.30px;width:0.60px;height:47.70px;background:#e0e0e0"></div>
<div style="left:264.40px;top:158.60px;width:121.20px;height:0.80px;background:#cfcfcf"></div>
<div style="left:273.50px;top:135.40px;width:43.10px;height:23.60px;background:#48a030"></div>
<div style="left:334.00px;top:135.40px;width:43.20px;height:23.60px;background:#520f9e"></div>
<div style="left:334.00px;top:111.50px;width:43.20px;height:23.90px;background:#9c8830"></div>
<div class="t" style="left:145.00px;width:300px;text-align:center;top:163.88px;font-size:4.51px;line-height:4.51px;color:#999;font-weight:normal;transform:scaleX(0.9091);transform-origin:50% 50%;filter:blur(0.6px)">M Travel</div>
<div class="t" style="left:205.60px;width:300px;text-align:center;top:163.88px;font-size:4.51px;line-height:4.51px;color:#999;font-weight:normal;transform:scaleX(0.9091);transform-origin:50% 50%;filter:blur(0.6px)">M Trust</div>
<div style="left:269.50px;top:171.90px;width:13.70px;height:4.20px;background:#555555"></div>
<div class="t" style="left:285.50px;top:173.28px;font-size:4.51px;line-height:4.51px;color:#666;font-weight:normal;transform:scaleX(0.9091);transform-origin:0 50%;">Created</div>
<div style="left:303.50px;top:171.90px;width:13.70px;height:4.20px;background:#a09a30"></div>
<div class="t" style="left:319.50px;top:173.28px;font-size:4.51px;line-height:4.51px;color:#666;font-weight:normal;transform:scaleX(0.9091);transform-origin:0 50%;">Pending</div>
<div style="left:337.50px;top:171.90px;width:13.70px;height:4.20px;background:#520f9e"></div>
<div class="t" style="left:353.50px;top:173.28px;font-size:4.51px;line-height:4.51px;color:#666;font-weight:normal;transform:scaleX(0.9091);transform-origin:0 50%;">Investigating</div>
<div style="left:268.00px;top:179.70px;width:13.70px;height:4.20px;background:#9c8830"></div>
<div class="t" style="left:284.00px;top:181.08px;font-size:4.51px;line-height:4.51px;color:#666;font-weight:normal;transform:scaleX(0.9091);transform-origin:0 50%;">Progressing</div>
<div style="left:309.00px;top:179.70px;width:13.70px;height:4.20px;background:#a01515"></div>
<div class="t" style="left:325.00px;top:181.08px;font-size:4.51px;line-height:4.51px;color:#666;font-weight:normal;transform:scaleX(0.9091);transform-origin:0 50%;">Regressing</div>
<div style="left:349.00px;top:179.70px;width:13.70px;height:4.20px;background:#4c9e5c"></div>
<div class="t" style="left:365.00px;top:181.08px;font-size:4.51px;line-height:4.51px;color:#666;font-weight:normal;transform:scaleX(0.9091);transform-origin:0 50%;">Solved</div>
<div style="left:309.00px;top:187.20px;width:13.70px;height:4.20px;background:#48a030"></div>
<div class="t" style="left:325.00px;top:188.58px;font-size:4.51px;line-height:4.51px;color:#666;font-weight:normal;transform:scaleX(0.9091);transform-origin:0 50%;">Closed</div>
<div style="left:93.20px;top:208.80px;width:148.40px;height:97.20px;border:0.6px solid #ececec;border-radius:2px;background:#fff"></div>
<div style="left:93.20px;top:208.80px;width:148.40px;height:14.20px;background:#fbeaea;border-bottom:0.6px solid #f0dede;border-radius:2px 2px 0 0"></div>
<svg style="left:98.00px;top:212.90px" width="6.00" height="6.00" viewBox="0 0 10 10"><path d="M0.5 0.5 V9.5 H9.5" stroke="#333" stroke-width="1.2" fill="none"/><path d="M2.5 8 V4 M4.5 8 V5.5 M6.5 8 V3 M8.5 8 V5" stroke="#333" stroke-width="1.3"/></svg>
<div class="t" style="left:106.70px;top:213.97px;font-size:5.81px;line-height:5.81px;color:#212529;font-weight:normal;transform:scaleX(0.9091);transform-origin:0 50%;">Entities Incidents Summary Chart : Status By Severity</div>
<div style="left:109.00px;top:230.00px;width:115.00px;height:0.60px;background:#e6e6e6"></div>
<div class="t" style="left:-191.50px;width:300px;text-align:right;top:229.84px;font-size:3.96px;line-height:3.96px;color:#666;font-weight:normal;transform:scaleX(0.9091);transform-origin:100% 50%;">1.0</div>
<div style="left:109.00px;top:241.10px;width:115.00px;height:0.60px;background:#e6e6e6"></div>
<div class="t" style="left:-191.50px;width:300px;text-align:right;top:240.94px;font-size:3.96px;line-height:3.96px;color:#666;font-weight:normal;transform:scaleX(0.9091);transform-origin:100% 50%;">0.8</div>
<div style="left:109.00px;top:252.10px;width:115.00px;height:0.60px;background:#e6e6e6"></div>
<div class="t" style="left:-191.50px;width:300px;text-align:right;top:251.94px;font-size:3.96px;line-height:3.96px;color:#666;font-weight:normal;transform:scaleX(0.9091);transform-origin:100% 50%;">0.6</div>
<div style="left:109.00px;top:263.20px;width:115.00px;height:0.60px;background:#e6e6e6"></div>
<div class="t" style="left:-191.50px;width:300px;text-align:right;top:263.04px;font-size:3.96px;line-height:3.96px;color:#666;font-weight:normal;transform:scaleX(0.9091);transform-origin:100% 50%;">0.4</div>
<div style="left:109.00px;top:274.20px;width:115.00px;height:0.60px;background:#e6e6e6"></div>
<div class="t" style="left:-191.50px;width:300px;text-align:right;top:274.04px;font-size:3.96px;line-height:3.96px;color:#666;font-weight:normal;transform:scaleX(0.9091);transform-origin:100% 50%;">0.2</div>
<div style="left:109.00px;top:285.20px;width:115.00px;height:0.60px;background:#e6e6e6"></div>
<div class="t" style="left:-191.50px;width:300px;text-align:right;top:285.04px;font-size:3.96px;line-height:3.96px;color:#666;font-weight:normal;transform:scaleX(0.9091);transform-origin:100% 50%;">0</div>
<div style="left:110.20px;top:230.30px;width:0.60px;height:55.20px;background:#e0e0e0"></div>
<div style="left:110.50px;top:285.10px;width:113.50px;height:0.80px;background:#cfcfcf"></div>
<div style="left:116.20px;top:230.30px;width:27.20px;height:55.20px;background:#e8542a"></div>
<div style="left:154.00px;top:230.30px;width:27.00px;height:55.20px;background:#fdf843"></div>
<div style="left:192.00px;top:230.30px;width:27.00px;height:55.20px;background:#e8542a"></div>
<div style="left:250.30px;top:208.80px;width:148.70px;height:97.20px;border:0.6px solid #ececec;border-radius:2px;background:#fff"></div>
<div style="left:250.30px;top:208.80px;width:148.70px;height:14.20px;background:#fbeaea;border-bottom:0.6px solid #f0dede;border-radius:2px 2px 0 0"></div>
<svg style="left:255.50px;top:212.90px" width="6.00" height="6.00" viewBox="0 0 10 10"><rect x="0.8" y="1.2" width="8.4" height="8" fill="none" stroke="#333" stroke-width="1"/><path d="M0.8 3.5 H9.2 M3 0 V2 M7 0 V2" stroke="#333" stroke-width="1"/><rect x="2" y="5" width="2.5" height="2.5" fill="#333"/></svg>
<div class="t" style="left:264.20px;top:213.82px;font-size:6.14px;line-height:6.14px;color:#212529;font-weight:normal;transform:scaleX(0.9091);transform-origin:0 50%;">Time series chart for Incidents per entity</div>
<div style="left:292.20px;top:231.00px;width:14.50px;height:4.80px;border:0.9px solid #9a7a30;background:#fff"></div>
<div class="t" style="left:308.50px;top:233.04px;font-size:4.18px;line-height:4.18px;color:#bbb;font-weight:normal;transform:scaleX(0.9091);transform-origin:0 50%;filter:blur(0.5px)">M Travel</div>
<div style="left:327.10px;top:231.00px;width:14.60px;height:4.80px;border:0.9px solid #5a7a5a;background:#fff"></div>
<div class="t" style="left:343.50px;top:233.04px;font-size:4.18px;line-height:4.18px;color:#bbb;font-weight:normal;transform:scaleX(0.9091);transform-origin:0 50%;filter:blur(0.5px)">M Trust</div>
<div style="left:313.10px;top:238.90px;width:71.40px;height:34.30px;background:#dedede"></div>
<div style="left:266.10px;top:238.65px;width:118.40px;height:0.50px;background:rgba(0,0,0,0.045)"></div>
<div style="left:266.10px;top:242.08px;width:118.40px;height:0.50px;background:rgba(0,0,0,0.045)"></div>
<div style="left:266.10px;top:245.51px;width:118.40px;height:0.50px;background:rgba(0,0,0,0.045)"></div>
<div style="left:266.10px;top:248.94px;width:118.40px;height:0.50px;background:rgba(0,0,0,0.045)"></div>
<div style="left:266.10px;top:252.37px;width:118.40px;height:0.50px;background:rgba(0,0,0,0.045)"></div>
<div style="left:266.10px;top:255.80px;width:118.40px;height:0.50px;background:rgba(0,0,0,0.045)"></div>
<div style="left:266.10px;top:259.23px;width:118.40px;height:0.50px;background:rgba(0,0,0,0.045)"></div>
<div style="left:266.10px;top:262.66px;width:118.40px;height:0.50px;background:rgba(0,0,0,0.045)"></div>
<div style="left:266.10px;top:266.09px;width:118.40px;height:0.50px;background:rgba(0,0,0,0.045)"></div>
<div style="left:266.10px;top:269.52px;width:118.40px;height:0.50px;background:rgba(0,0,0,0.045)"></div>
<div style="left:266.10px;top:272.95px;width:118.40px;height:0.50px;background:rgba(0,0,0,0.045)"></div>
<div style="left:265.85px;top:238.90px;width:0.50px;height:34.30px;background:rgba(0,0,0,0.05)"></div>
<div style="left:290.05px;top:238.90px;width:0.50px;height:34.30px;background:rgba(0,0,0,0.05)"></div>
<div style="left:312.85px;top:238.90px;width:0.50px;height:34.30px;background:rgba(0,0,0,0.05)"></div>
<div style="left:337.05px;top:238.90px;width:0.50px;height:34.30px;background:rgba(0,0,0,0.05)"></div>
<div style="left:360.25px;top:238.90px;width:0.50px;height:34.30px;background:rgba(0,0,0,0.05)"></div>
<div style="left:384.25px;top:238.90px;width:0.50px;height:34.30px;background:rgba(0,0,0,0.05)"></div>
<div style="left:313.10px;top:238.40px;width:71.40px;height:1.00px;background:#5a7a5a"></div>
<svg style="left:265.50px;top:237.70px" width="2.4" height="2.4"><circle cx="1.2" cy="1.2" r="1.1" fill="#a08040"/></svg>
<div style="left:265.60px;top:238.90px;width:0.80px;height:34.30px;background:#ccc"></div>
<div style="left:257.60px;top:236.70px;width:5px;height:36.5px;background:repeating-linear-gradient(to bottom, rgba(90,90,90,0.35) 0px, rgba(90,90,90,0.35) 2.6px, rgba(255,255,255,0) 2.6px, rgba(255,255,255,0) 3.65px);filter:blur(0.4px)"></div>
<div class="t" style="left:258.10px;top:277.48px;font-size:4.29px;line-height:4.29px;color:#555;font-weight:normal;transform:scaleX(0.9091);transform-origin:0 50%;">Aug 2022</div>
<div class="t" style="left:281.80px;top:277.48px;font-size:4.29px;line-height:4.29px;color:#555;font-weight:normal;transform:scaleX(0.9091);transform-origin:0 50%;">Sep 2022</div>
<div class="t" style="left:305.50px;top:277.48px;font-size:4.29px;line-height:4.29px;color:#555;font-weight:normal;transform:scaleX(0.9091);transform-origin:0 50%;">Oct 2022</div>
<div style="left:76.20px;top:275.00px;width:338.80px;height:11.30px;background:linear-gradient(to bottom, rgba(0,0,0,0), rgba(0,0,0,0.07))"></div>
</div>
<div class="scr" style="left:342px;top:272px;width:399px;height:203px">
<div style="left:0.00px;top:0.00px;width:399.00px;height:16.20px;background:#212529"></div>
<div style="left:0.00px;top:0.00px;width:69.90px;height:203.00px;background:#212529"></div>
<svg style="left:2.60px;top:5.69px" width="7.14" height="4.62" viewBox="0 0 10 6.5"><path d="M0 0.3 H10 V1.6 H0 Z M0.6 2.2 H9.4 L8.6 4.6 C7.5 6.3 2.5 6.3 1.4 4.6 Z" fill="#f0f0f0"/><path d="M1.2 3.2 H8.8 M1.8 4.2 H8.2" stroke="#212529" stroke-width="0.45"/></svg>
<div class="t" style="left:10.90px;top:6.19px;font-size:6.82px;line-height:6.82px;color:#fff;font-weight:normal;transform:scaleX(0.9091);transform-origin:0 50%;">AmanSafe</div>
<div style="left:73.50px;top:6.45px;width:3.68px;height:0.91px;background:#80858a"></div>
<div style="left:73.50px;top:7.75px;width:3.68px;height:0.91px;background:#80858a"></div>
<div style="left:73.50px;top:9.04px;width:3.68px;height:0.91px;background:#80858a"></div>
<div style="left:339.00px;top:1.00px;width:14.60px;height:12.20px;border:0.85px solid #22397a;border-radius:1.46px"></div>
<div class="t" style="left:196.30px;width:300px;text-align:center;top:5.35px;font-size:5.64px;line-height:5.64px;color:#4d7ff5;font-weight:normal;transform:scaleX(0.9091);transform-origin:50% 50%;">AR</div>
<svg style="left:355.35px;top:4.97px" width="6.10" height="6.10" viewBox="0 0 10 10"><path d="M5 0.5 C2.5 0.5 2 3 2 5 L1 7.5 H9 L8 5 C8 3 7.5 0.5 5 0.5 Z M4 8.3 H6 L5 9.8 Z" fill="#80858b"/></svg>
<div style="left:358.70px;top:1.37px;width:14.00px;height:6.71px;background:#dc3545;border-radius:1.83px"></div>
<div class="t" style="left:215.70px;width:300px;text-align:center;top:3.98px;font-size:4.43px;line-height:4.43px;color:#fff;font-weight:bold;transform:scaleX(0.9091);transform-origin:50% 50%;">1722</div>
<svg style="left:377.66px;top:6.49px" width="2.68" height="1.59" viewBox="0 0 6 3.5"><path d="M0 0 H6 L3 3.5 Z" fill="#9ea3a8"/></svg>
<svg style="left:393.66px;top:6.49px" width="2.68" height="1.59" viewBox="0 0 6 3.5"><path d="M0 0 H6 L3 3.5 Z" fill="#9ea3a8"/></svg>
<svg style="left:386.25px;top:4.36px" width="5.49" height="5.49" viewBox="0 0 10 10"><circle cx="5" cy="2.8" r="2.4" fill="#c8ccd0"/><path d="M0.8 10 C0.8 6.5 2.5 5.8 5 5.8 C7.5 5.8 9.2 6.5 9.2 10 Z" fill="#c8ccd0"/></svg>
<div class="t" style="left:3.50px;top:27.44px;font-size:4.18px;line-height:4.18px;color:rgba(255,255,255,0.32);font-weight:normal;transform:scaleX(0.9091);transform-origin:0 50%;">DASHBOARD</div>
<svg style="left:4.00px;top:40.96px" width="4.59" height="4.28" viewBox="0 0 10 9"><path d="M1 8 A4.2 4.2 0 1 1 9 8 Z" fill="none" stroke="#565a5f" stroke-width="1.3"/><path d="M5 7 L7 3.5" stroke="#565a5f" stroke-width="1.1"/></svg>
<div class="t" style="left:10.81px;top:41.86px;font-size:5.61px;line-height:5.61px;color:rgba(255,255,255,0.56);font-weight:normal;transform:scaleX(0.9091);transform-origin:0 50%;">Dashboard</div>
<div class="t" style="left:3.50px;top:60.44px;font-size:4.18px;line-height:4.18px;color:rgba(255,255,255,0.32);font-weight:normal;transform:scaleX(0.9091);transform-origin:0 50%;">INTERFACE</div>
<div style="left:4.00px;top:75.15px;width:4.69px;height:4.69px;border:0.66px solid #565a5f;border-radius:0.61px"></div>
<div class="t" style="left:10.30px;top:76.36px;font-size:5.61px;line-height:5.61px;color:rgba(255,255,255,0.56);font-weight:normal;transform:scaleX(0.9091);transform-origin:0 50%;">Risk Management</div>
<svg style="left:63.20px;top:75.97px" width="1.94" height="3.06" viewBox="0 0 3.8 6"><path d="M0.6 0.5 L3.1 3 L0.6 5.5" stroke="#9a9ea2" stroke-width="0.9" fill="none"/></svg>
<div style="left:4.00px;top:90.95px;width:4.69px;height:4.69px;border:0.66px solid #565a5f;border-radius:0.61px"></div>
<div class="t" style="left:10.30px;top:92.16px;font-size:5.61px;line-height:5.61px;color:rgba(255,255,255,0.56);font-weight:normal;transform:scaleX(0.9091);transform-origin:0 50%;">Incident Management</div>
<svg style="left:63.20px;top:91.77px" width="1.94" height="3.06" viewBox="0 0 3.8 6"><path d="M0.6 0.5 L3.1 3 L0.6 5.5" stroke="#9a9ea2" stroke-width="0.9" fill="none"/></svg>
<div style="left:4.00px;top:106.65px;width:4.69px;height:4.69px;border:0.66px solid #565a5f;border-radius:0.61px"></div>
<div class="t" style="left:10.30px;top:107.86px;font-size:5.61px;line-height:5.61px;color:rgba(255,255,255,0.56);font-weight:normal;transform:scaleX(0.9091);transform-origin:0 50%;">Compliance Checklist</div>
<svg style="left:63.20px;top:107.47px" width="1.94" height="3.06" viewBox="0 0 3.8 6"><path d="M0.6 0.5 L3.1 3 L0.6 5.5" stroke="#9a9ea2" stroke-width="0.9" fill="none"/></svg>
<div style="left:4.00px;top:121.95px;width:4.69px;height:4.69px;border:0.66px solid #565a5f;border-radius:0.61px"></div>
<div class="t" style="left:10.30px;top:123.16px;font-size:5.61px;line-height:5.61px;color:rgba(255,255,255,0.56);font-weight:normal;transform:scaleX(0.9091);transform-origin:0 50%;">Policies</div>
<svg style="left:63.20px;top:122.77px" width="1.94" height="3.06" viewBox="0 0 3.8 6"><path d="M0.6 0.5 L3.1 3 L0.6 5.5" stroke="#9a9ea2" stroke-width="0.9" fill="none"/></svg>
<div style="left:4.00px;top:137.75px;width:4.69px;height:4.69px;border:0.66px solid #565a5f;border-radius:0.61px"></div>
<div class="t" style="left:10.30px;top:138.96px;font-size:5.61px;line-height:5.61px;color:rgba(255,255,255,0.56);font-weight:normal;transform:scaleX(0.9091);transform-origin:0 50%;">Licenses</div>
<svg style="left:63.20px;top:138.57px" width="1.94" height="3.06" viewBox="0 0 3.8 6"><path d="M0.6 0.5 L3.1 3 L0.6 5.5" stroke="#9a9ea2" stroke-width="0.9" fill="none"/></svg>
<div style="left:4.00px;top:153.05px;width:4.69px;height:4.69px;border:0.66px solid #565a5f;border-radius:0.61px"></div>
<div class="t" style="left:10.30px;top:154.26px;font-size:5.61px;line-height:5.61px;color:rgba(255,255,255,0.56);font-weight:normal;transform:scaleX(0.9091);transform-origin:0 50%;">Tracker</div>
<svg style="left:63.20px;top:153.87px" width="1.94" height="3.06" viewBox="0 0 3.8 6"><path d="M0.6 0.5 L3.1 3 L0.6 5.5" stroke="#9a9ea2" stroke-width="0.9" fill="none"/></svg>
<div style="left:4.00px;top:168.45px;width:4.69px;height:4.69px;border:0.66px solid #565a5f;border-radius:0.61px"></div>
<div class="t" style="left:10.30px;top:169.66px;font-size:5.61px;line-height:5.61px;color:rgba(255,255,255,0.56);font-weight:normal;transform:scaleX(0.9091);transform-origin:0 50%;">HR</div>
<svg style="left:63.20px;top:169.27px" width="1.94" height="3.06" viewBox="0 0 3.8 6"><path d="M0.6 0.5 L3.1 3 L0.6 5.5" stroke="#9a9ea2" stroke-width="0.9" fill="none"/></svg>
<div style="left:4.00px;top:184.15px;width:4.69px;height:4.69px;border:0.66px solid #565a5f;border-radius:0.61px"></div>
<div class="t" style="left:10.30px;top:185.36px;font-size:5.61px;line-height:5.61px;color:rgba(255,255,255,0.56);font-weight:normal;transform:scaleX(0.9091);transform-origin:0 50%;">Accounts</div>
<svg style="left:63.20px;top:184.97px" width="1.94" height="3.06" viewBox="0 0 3.8 6"><path d="M0.6 0.5 L3.1 3 L0.6 5.5" stroke="#9a9ea2" stroke-width="0.9" fill="none"/></svg>
<div class="t" style="left:78.80px;top:26.97px;font-size:10.07px;line-height:10.07px;color:#212529;font-weight:normal;transform:scaleX(0.9091);transform-origin:0 50%;-webkit-text-stroke:0.22px #212529">Incidents Register</div>
<div style="left:78.30px;top:37.20px;width:313.30px;height:149.80px;border:0.6px solid #ececec;border-radius:2px"></div>
<div style="left:78.30px;top:57.70px;width:313.30px;height:0.50px;background:#eee"></div>
<div style="left:83.80px;top:43.30px;width:20.00px;height:9.60px;background:#1f4fd1;border-radius:1.2px"></div>
<div class="t" style="left:-56.20px;width:300px;text-align:center;top:47.38px;font-size:4.51px;line-height:4.51px;color:#fff;font-weight:normal;transform:scaleX(0.9091);transform-origin:50% 50%;">Speech</div>
<div style="left:344.80px;top:43.30px;width:41.20px;height:9.60px;background:#1f4fd1;border-radius:1.2px"></div>
<div class="t" style="left:215.40px;width:300px;text-align:center;top:47.23px;font-size:4.84px;line-height:4.84px;color:#fff;font-weight:normal;transform:scaleX(0.9091);transform-origin:50% 50%;">Add New incident</div>
<div style="left:78.30px;top:60.10px;width:313.30px;height:12.70px;border:0.6px solid #ececec;border-radius:2px;background:#fff"></div>
<div style="left:78.30px;top:60.10px;width:313.30px;height:12.70px;background:#fbeaea;border-bottom:0.6px solid #f0dede;border-radius:2px 2px 0 0"></div>
<svg style="left:83.80px;top:63.95px" width="5.00" height="5.00" viewBox="0 0 10 10"><rect x="0.8" y="0.8" width="8.4" height="8.4" fill="none" stroke="#333" stroke-width="1.4"/><path d="M0.8 3.8 H9.2 M0.8 6.4 H9.2 M5 0.8 V9.2" stroke="#333" stroke-width="1.1"/></svg>
<div class="t" style="left:91.80px;top:65.19px;font-size:5.56px;line-height:5.56px;color:#333;font-weight:normal;transform:scaleX(0.9091);transform-origin:0 50%;">Incidents Table</div>
<div style="left:83.80px;top:77.70px;width:25.80px;height:12.50px;border:0.6px solid #e3e3e3;border-radius:2px"></div>
<div class="t" style="left:90.30px;top:83.12px;font-size:5.28px;line-height:5.28px;color:#444;font-weight:normal;transform:scaleX(0.9091);transform-origin:0 50%;">10</div>
<svg style="left:101.30px;top:83.30px" width="3.00" height="1.80" viewBox="0 0 6 3.6"><path d="M0.5 0.5 L3 3 L5.5 0.5" stroke="#555" stroke-width="0.9" fill="none"/></svg>
<div class="t" style="left:112.00px;top:83.35px;font-size:4.80px;line-height:4.80px;color:#333;font-weight:normal;transform:scaleX(0.9091);transform-origin:0 50%;">entries per page</div>
<div style="left:319.00px;top:77.70px;width:67.00px;height:12.50px;border:0.6px solid #e3e3e3;border-radius:2px"></div>
<div class="t" style="left:323.00px;top:83.33px;font-size:4.84px;line-height:4.84px;color:#888;font-weight:normal;transform:scaleX(0.9091);transform-origin:0 50%;">Search...</div>
<div style="left:83.80px;top:95.30px;width:302.20px;height:12.30px;border-top:0.5px solid #eee"></div>
<div style="left:83.80px;top:106.90px;width:302.20px;height:1.20px;background:#6a6a6a"></div>
<div class="t" style="left:86.80px;top:100.13px;font-size:4.40px;line-height:4.40px;color:#222;font-weight:bold;transform:scaleX(0.9091);transform-origin:0 50%;">Name</div>
<svg style="left:149.98px;top:99.60px" width="1.44" height="3.20" viewBox="0 0 4 9"><path d="M0 3.2 L2 0.5 L4 3.2 Z M0 5.8 L2 8.5 L4 5.8 Z" fill="#c0c0c0"/></svg>
<div class="t" style="left:158.30px;top:100.13px;font-size:4.40px;line-height:4.40px;color:#222;font-weight:bold;transform:scaleX(0.9091);transform-origin:0 50%;">Entity</div>
<svg style="left:173.08px;top:99.60px" width="1.44" height="3.20" viewBox="0 0 4 9"><path d="M0 3.2 L2 0.5 L4 3.2 Z M0 5.8 L2 8.5 L4 5.8 Z" fill="#c0c0c0"/></svg>
<div class="t" style="left:181.40px;top:100.13px;font-size:4.40px;line-height:4.40px;color:#222;font-weight:bold;transform:scaleX(0.9091);transform-origin:0 50%;">Severity</div>
<svg style="left:200.68px;top:99.60px" width="1.44" height="3.20" viewBox="0 0 4 9"><path d="M0 3.2 L2 0.5 L4 3.2 Z M0 5.8 L2 8.5 L4 5.8 Z" fill="#c0c0c0"/></svg>
<div class="t" style="left:209.00px;top:100.13px;font-size:4.40px;line-height:4.40px;color:#222;font-weight:bold;transform:scaleX(0.9091);transform-origin:0 50%;">Status</div>
<svg style="left:231.98px;top:99.60px" width="1.44" height="3.20" viewBox="0 0 4 9"><path d="M0 3.2 L2 0.5 L4 3.2 Z M0 5.8 L2 8.5 L4 5.8 Z" fill="#c0c0c0"/></svg>
<div class="t" style="left:240.30px;top:100.13px;font-size:4.40px;line-height:4.40px;color:#222;font-weight:bold;transform:scaleX(0.9091);transform-origin:0 50%;">Progress</div>
<svg style="left:261.18px;top:99.60px" width="1.44" height="3.20" viewBox="0 0 4 9"><path d="M0 3.2 L2 0.5 L4 3.2 Z M0 5.8 L2 8.5 L4 5.8 Z" fill="#c0c0c0"/></svg>
<div class="t" style="left:269.50px;top:100.13px;font-size:4.40px;line-height:4.40px;color:#222;font-weight:bold;transform:scaleX(0.9091);transform-origin:0 50%;">Action</div>
<svg style="left:285.18px;top:99.60px" width="1.44" height="3.20" viewBox="0 0 4 9"><path d="M0 3.2 L2 0.5 L4 3.2 Z M0 5.8 L2 8.5 L4 5.8 Z" fill="#c0c0c0"/></svg>
<div class="t" style="left:293.50px;top:100.13px;font-size:4.40px;line-height:4.40px;color:#666;font-weight:bold;transform:scaleX(0.9091);transform-origin:0 50%;filter:blur(0.9px)">date_updated</div>
<svg style="left:332.68px;top:99.60px" width="1.44" height="3.20" viewBox="0 0 4 9"><path d="M0 3.2 L2 0.5 L4 3.2 Z M0 5.8 L2 8.5 L4 5.8 Z" fill="#c0c0c0"/></svg>
<div class="t" style="left:341.00px;top:100.13px;font-size:4.40px;line-height:4.40px;color:#666;font-weight:bold;transform:scaleX(0.9091);transform-origin:0 50%;filter:blur(0.9px)">date_created</div>
<svg style="left:380.68px;top:99.60px" width="1.44" height="3.20" viewBox="0 0 4 9"><path d="M0 3.2 L2 0.5 L4 3.2 Z M0 5.8 L2 8.5 L4 5.8 Z" fill="#c0c0c0"/></svg>
<div style="left:83.80px;top:108.40px;width:302.20px;height:18.10px;background:#f2f2f2"></div>
<div style="left:178.40px;top:108.40px;width:27.60px;height:18.10px;background:#f2efc8"></div>
<div style="left:206.00px;top:108.40px;width:31.30px;height:18.10px;background:#d5ebd1"></div>
<div style="left:155.30px;top:108.40px;width:0.40px;height:18.10px;background:rgba(0,0,0,0.04)"></div>
<div style="left:178.40px;top:108.40px;width:0.40px;height:18.10px;background:rgba(0,0,0,0.04)"></div>
<div style="left:206.00px;top:108.40px;width:0.40px;height:18.10px;background:rgba(0,0,0,0.04)"></div>
<div style="left:237.30px;top:108.40px;width:0.40px;height:18.10px;background:rgba(0,0,0,0.04)"></div>
<div style="left:266.50px;top:108.40px;width:0.40px;height:18.10px;background:rgba(0,0,0,0.04)"></div>
<div style="left:290.50px;top:108.40px;width:0.40px;height:18.10px;background:rgba(0,0,0,0.04)"></div>
<div style="left:338.00px;top:108.40px;width:0.40px;height:18.10px;background:rgba(0,0,0,0.04)"></div>
<div class="t" style="left:87.00px;top:113.08px;font-size:4.29px;line-height:4.29px;color:#7a9be6;font-weight:normal;transform:scaleX(0.9091);transform-origin:0 50%;text-decoration:underline;text-decoration-color:rgba(110,140,225,0.6);filter:blur(0.45px)">Claim compensation due to Hail</div>
<div class="t" style="left:87.00px;top:119.88px;font-size:4.29px;line-height:4.29px;color:#7a9be6;font-weight:normal;transform:scaleX(0.9091);transform-origin:0 50%;text-decoration:underline;text-decoration-color:rgba(110,140,225,0.6);filter:blur(0.45px)">crisis</div>
<div class="t" style="left:158.00px;top:113.14px;font-size:4.18px;line-height:4.18px;color:#999;font-weight:normal;transform:scaleX(0.9091);transform-origin:0 50%;filter:blur(0.5px)">M Travel</div>
<div class="t" style="left:181.00px;top:113.16px;font-size:4.12px;line-height:4.12px;color:#333;font-weight:normal;transform:scaleX(0.9091);transform-origin:0 50%;">3 Average</div>
<div class="t" style="left:209.00px;top:113.16px;font-size:4.12px;line-height:4.12px;color:#333;font-weight:normal;transform:scaleX(0.9091);transform-origin:0 50%;">Closed</div>
<div class="t" style="left:240.00px;top:113.14px;font-size:4.18px;line-height:4.18px;color:#555;font-weight:normal;transform:scaleX(0.9091);transform-origin:0 50%;">-</div>
<svg style="left:269.50px;top:111.70px" width="8" height="4" viewBox="0 0 16 8"><rect x="0.6" y="1.2" width="5.6" height="6" fill="none" stroke="#2d5fe0" stroke-width="1.2"/><path d="M2.5 5.5 L6.5 0.8" stroke="#2d5fe0" stroke-width="1.4"/><path d="M9 1.2 H14 M10 2.2 V7.5 H13 V2.2 M11.5 3 V6.8" stroke="#2d5fe0" stroke-width="1.1" fill="none"/></svg>
<div class="t" style="left:293.80px;top:113.17px;font-size:4.11px;line-height:4.11px;color:#333;font-weight:normal;transform:scaleX(0.9091);transform-origin:0 50%;">Jan. 10, 2023, 2:17</div>
<div class="t" style="left:293.80px;top:119.97px;font-size:4.11px;line-height:4.11px;color:#333;font-weight:normal;transform:scaleX(0.9091);transform-origin:0 50%;">p.m.</div>
<div class="t" style="left:341.20px;top:113.17px;font-size:4.11px;line-height:4.11px;color:#333;font-weight:normal;transform:scaleX(0.9091);transform-origin:0 50%;">Aug. 22, 2022, 9:56</div>
<div class="t" style="left:341.20px;top:119.97px;font-size:4.11px;line-height:4.11px;color:#333;font-weight:normal;transform:scaleX(0.9091);transform-origin:0 50%;">a.m.</div>
<div style="left:83.80px;top:126.50px;width:302.20px;height:19.20px;background:#ffffff"></div>
<div style="left:178.40px;top:126.50px;width:27.60px;height:19.20px;background:#f9d9db"></div>
<div style="left:206.00px;top:126.50px;width:31.30px;height:19.20px;background:#e7d8f4"></div>
<div style="left:155.30px;top:126.50px;width:0.40px;height:19.20px;background:rgba(0,0,0,0.04)"></div>
<div style="left:178.40px;top:126.50px;width:0.40px;height:19.20px;background:rgba(0,0,0,0.04)"></div>
<div style="left:206.00px;top:126.50px;width:0.40px;height:19.20px;background:rgba(0,0,0,0.04)"></div>
<div style="left:237.30px;top:126.50px;width:0.40px;height:19.20px;background:rgba(0,0,0,0.04)"></div>
<div style="left:266.50px;top:126.50px;width:0.40px;height:19.20px;background:rgba(0,0,0,0.04)"></div>
<div style="left:290.50px;top:126.50px;width:0.40px;height:19.20px;background:rgba(0,0,0,0.04)"></div>
<div style="left:338.00px;top:126.50px;width:0.40px;height:19.20px;background:rgba(0,0,0,0.04)"></div>
<div class="t" style="left:87.00px;top:131.18px;font-size:4.29px;line-height:4.29px;color:#7a9be6;font-weight:normal;transform:scaleX(0.9091);transform-origin:0 50%;text-decoration:underline;text-decoration-color:rgba(110,140,225,0.6);filter:blur(0.45px)">The Ransomware attack</div>
<div class="t" style="left:158.00px;top:131.24px;font-size:4.18px;line-height:4.18px;color:#999;font-weight:normal;transform:scaleX(0.9091);transform-origin:0 50%;filter:blur(0.5px)">M Trust</div>
<div class="t" style="left:181.00px;top:131.26px;font-size:4.12px;line-height:4.12px;color:#333;font-weight:normal;transform:scaleX(0.9091);transform-origin:0 50%;">5 Critical</div>
<div class="t" style="left:209.00px;top:131.26px;font-size:4.12px;line-height:4.12px;color:#333;font-weight:normal;transform:scaleX(0.9091);transform-origin:0 50%;">Investigating</div>
<div class="t" style="left:240.00px;top:131.24px;font-size:4.18px;line-height:4.18px;color:#555;font-weight:normal;transform:scaleX(0.9091);transform-origin:0 50%;">-</div>
<svg style="left:269.50px;top:129.80px" width="8" height="4" viewBox="0 0 16 8"><rect x="0.6" y="1.2" width="5.6" height="6" fill="none" stroke="#2d5fe0" stroke-width="1.2"/><path d="M2.5 5.5 L6.5 0.8" stroke="#2d5fe0" stroke-width="1.4"/><path d="M9 1.2 H14 M10 2.2 V7.5 H13 V2.2 M11.5 3 V6.8" stroke="#2d5fe0" stroke-width="1.1" fill="none"/></svg>
<div class="t" style="left:293.80px;top:131.27px;font-size:4.11px;line-height:4.11px;color:#333;font-weight:normal;transform:scaleX(0.9091);transform-origin:0 50%;">Oct. 1, 2022, 9:57</div>
<div class="t" style="left:293.80px;top:138.07px;font-size:4.11px;line-height:4.11px;color:#333;font-weight:normal;transform:scaleX(0.9091);transform-origin:0 50%;">p.m.</div>
<div class="t" style="left:341.20px;top:131.27px;font-size:4.11px;line-height:4.11px;color:#333;font-weight:normal;transform:scaleX(0.9091);transform-origin:0 50%;">Oct. 1, 2022, 8:31</div>
<div class="t" style="left:341.20px;top:138.07px;font-size:4.11px;line-height:4.11px;color:#333;font-weight:normal;transform:scaleX(0.9091);transform-origin:0 50%;">p.m.</div>
<div style="left:83.80px;top:145.70px;width:302.20px;height:18.80px;background:#f2f2f2"></div>
<div style="left:178.40px;top:145.70px;width:27.60px;height:18.80px;background:#eccacc"></div>
<div style="left:206.00px;top:145.70px;width:31.30px;height:18.80px;background:#ede2cd"></div>
<div style="left:155.30px;top:145.70px;width:0.40px;height:18.80px;background:rgba(0,0,0,0.04)"></div>
<div style="left:178.40px;top:145.70px;width:0.40px;height:18.80px;background:rgba(0,0,0,0.04)"></div>
<div style="left:206.00px;top:145.70px;width:0.40px;height:18.80px;background:rgba(0,0,0,0.04)"></div>
<div style="left:237.30px;top:145.70px;width:0.40px;height:18.80px;background:rgba(0,0,0,0.04)"></div>
<div style="left:266.50px;top:145.70px;width:0.40px;height:18.80px;background:rgba(0,0,0,0.04)"></div>
<div style="left:290.50px;top:145.70px;width:0.40px;height:18.80px;background:rgba(0,0,0,0.04)"></div>
<div style="left:338.00px;top:145.70px;width:0.40px;height:18.80px;background:rgba(0,0,0,0.04)"></div>
<div class="t" style="left:87.00px;top:150.38px;font-size:4.29px;line-height:4.29px;color:#7a9be6;font-weight:normal;transform:scaleX(0.9091);transform-origin:0 50%;text-decoration:underline;text-decoration-color:rgba(110,140,225,0.6);filter:blur(0.45px)">Suspension of M Trust</div>
<div class="t" style="left:87.00px;top:157.18px;font-size:4.29px;line-height:4.29px;color:#7a9be6;font-weight:normal;transform:scaleX(0.9091);transform-origin:0 50%;text-decoration:underline;text-decoration-color:rgba(110,140,225,0.6);filter:blur(0.45px)">sponsorship license</div>
<div class="t" style="left:158.00px;top:150.44px;font-size:4.18px;line-height:4.18px;color:#999;font-weight:normal;transform:scaleX(0.9091);transform-origin:0 50%;filter:blur(0.5px)">M Trust</div>
<div class="t" style="left:181.00px;top:150.46px;font-size:4.12px;line-height:4.12px;color:#333;font-weight:normal;transform:scaleX(0.9091);transform-origin:0 50%;">5 Critical</div>
<div class="t" style="left:209.00px;top:150.46px;font-size:4.12px;line-height:4.12px;color:#333;font-weight:normal;transform:scaleX(0.9091);transform-origin:0 50%;">Progressing</div>
<div class="t" style="left:240.00px;top:150.44px;font-size:4.18px;line-height:4.18px;color:#555;font-weight:normal;transform:scaleX(0.9091);transform-origin:0 50%;">-</div>
<svg style="left:269.50px;top:149.00px" width="8" height="4" viewBox="0 0 16 8"><rect x="0.6" y="1.2" width="5.6" height="6" fill="none" stroke="#2d5fe0" stroke-width="1.2"/><path d="M2.5 5.5 L6.5 0.8" stroke="#2d5fe0" stroke-width="1.4"/><path d="M9 1.2 H14 M10 2.2 V7.5 H13 V2.2 M11.5 3 V6.8" stroke="#2d5fe0" stroke-width="1.1" fill="none"/></svg>
<div class="t" style="left:293.80px;top:150.47px;font-size:4.11px;line-height:4.11px;color:#333;font-weight:normal;transform:scaleX(0.9091);transform-origin:0 50%;">Jan. 23, 2023, 5:40</div>
<div class="t" style="left:293.80px;top:157.27px;font-size:4.11px;line-height:4.11px;color:#333;font-weight:normal;transform:scaleX(0.9091);transform-origin:0 50%;">a.m.</div>
<div class="t" style="left:341.20px;top:150.47px;font-size:4.11px;line-height:4.11px;color:#333;font-weight:normal;transform:scaleX(0.9091);transform-origin:0 50%;">Jan. 9, 2023, 9:20</div>
<div class="t" style="left:341.20px;top:157.27px;font-size:4.11px;line-height:4.11px;color:#333;font-weight:normal;transform:scaleX(0.9091);transform-origin:0 50%;">a.m.</div>
<div class="t" style="left:83.80px;top:175.24px;font-size:5.67px;line-height:5.67px;color:#333;font-weight:normal;transform:scaleX(0.9091);transform-origin:0 50%;">Showing 1 to 3 of 3 entries</div>
</div>
<div class="scr" style="left:13px;top:299.8px;width:355.2px;height:239.99999999999994px">
<div style="left:0.00px;top:0.00px;width:355.20px;height:15.40px;background:#212529;border-bottom:0.6px solid #0e0f11"></div>
<div style="left:0.00px;top:0.00px;width:64.70px;height:240.00px;background:#212529"></div>
<svg style="left:3.10px;top:5.66px" width="6.93" height="4.49" viewBox="0 0 10 6.5"><path d="M0 0.3 H10 V1.6 H0 Z M0.6 2.2 H9.4 L8.6 4.6 C7.5 6.3 2.5 6.3 1.4 4.6 Z" fill="#f0f0f0"/><path d="M1.2 3.2 H8.8 M1.8 4.2 H8.2" stroke="#212529" stroke-width="0.45"/></svg>
<div class="t" style="left:10.80px;top:6.40px;font-size:6.16px;line-height:6.16px;color:#fff;font-weight:normal;transform:scaleX(0.9091);transform-origin:0 50%;">AmanSafe</div>
<div style="left:67.30px;top:6.00px;width:3.78px;height:0.94px;background:#80858a"></div>
<div style="left:67.30px;top:7.33px;width:3.78px;height:0.94px;background:#80858a"></div>
<div style="left:67.30px;top:8.66px;width:3.78px;height:0.94px;background:#80858a"></div>
<div style="left:301.00px;top:2.80px;width:13.30px;height:10.20px;border:0.71px solid #22397a;border-radius:1.22px"></div>
<div class="t" style="left:157.65px;width:300px;text-align:center;top:6.59px;font-size:4.71px;line-height:4.71px;color:#4d7ff5;font-weight:normal;transform:scaleX(0.9091);transform-origin:50% 50%;">AR</div>
<svg style="left:317.00px;top:6.12px" width="5.10" height="5.10" viewBox="0 0 10 10"><path d="M5 0.5 C2.5 0.5 2 3 2 5 L1 7.5 H9 L8 5 C8 3 7.5 0.5 5 0.5 Z M4 8.3 H6 L5 9.8 Z" fill="#80858b"/></svg>
<div style="left:319.80px;top:3.11px;width:11.70px;height:5.61px;background:#dc3545;border-radius:1.53px"></div>
<div class="t" style="left:175.65px;width:300px;text-align:center;top:5.52px;font-size:3.70px;line-height:3.70px;color:#fff;font-weight:bold;transform:scaleX(0.9091);transform-origin:50% 50%;">1722</div>
<svg style="left:336.38px;top:7.39px" width="2.24" height="1.33" viewBox="0 0 6 3.5"><path d="M0 0 H6 L3 3.5 Z" fill="#9ea3a8"/></svg>
<svg style="left:350.68px;top:7.39px" width="2.24" height="1.33" viewBox="0 0 6 3.5"><path d="M0 0 H6 L3 3.5 Z" fill="#9ea3a8"/></svg>
<svg style="left:344.00px;top:5.61px" width="4.59" height="4.59" viewBox="0 0 10 10"><circle cx="5" cy="2.8" r="2.4" fill="#c8ccd0"/><path d="M0.8 10 C0.8 6.5 2.5 5.8 5 5.8 C7.5 5.8 9.2 6.5 9.2 10 Z" fill="#c8ccd0"/></svg>
<div class="t" style="left:3.50px;top:26.54px;font-size:3.74px;line-height:3.74px;color:rgba(255,255,255,0.32);font-weight:normal;transform:scaleX(0.9091);transform-origin:0 50%;">DASHBOARD</div>
<svg style="left:4.00px;top:38.07px" width="4.14" height="3.86" viewBox="0 0 10 9"><path d="M1 8 A4.2 4.2 0 1 1 9 8 Z" fill="none" stroke="#565a5f" stroke-width="1.3"/><path d="M5 7 L7 3.5" stroke="#565a5f" stroke-width="1.1"/></svg>
<div class="t" style="left:10.26px;top:39.02px;font-size:5.06px;line-height:5.06px;color:rgba(255,255,255,0.56);font-weight:normal;transform:scaleX(0.9091);transform-origin:0 50%;">Dashboard</div>
<div class="t" style="left:3.50px;top:57.44px;font-size:3.74px;line-height:3.74px;color:rgba(255,255,255,0.32);font-weight:normal;transform:scaleX(0.9091);transform-origin:0 50%;">INTERFACE</div>
<div style="left:4.00px;top:69.38px;width:4.23px;height:4.23px;border:0.60px solid #565a5f;border-radius:0.55px"></div>
<div class="t" style="left:9.80px;top:70.62px;font-size:5.06px;line-height:5.06px;color:rgba(255,255,255,0.56);font-weight:normal;transform:scaleX(0.9091);transform-origin:0 50%;">Risk Management</div>
<svg style="left:58.60px;top:70.12px" width="1.75" height="2.76" viewBox="0 0 3.8 6"><path d="M0.6 0.5 L3.1 3 L0.6 5.5" stroke="#9a9ea2" stroke-width="0.9" fill="none"/></svg>
<div style="left:4.00px;top:83.08px;width:4.23px;height:4.23px;border:0.60px solid #565a5f;border-radius:0.55px"></div>
<div class="t" style="left:9.80px;top:84.32px;font-size:5.06px;line-height:5.06px;color:rgba(255,255,255,0.56);font-weight:normal;transform:scaleX(0.9091);transform-origin:0 50%;">Incident Management</div>
<svg style="left:58.60px;top:83.82px" width="1.75" height="2.76" viewBox="0 0 3.8 6"><path d="M0.6 0.5 L3.1 3 L0.6 5.5" stroke="#9a9ea2" stroke-width="0.9" fill="none"/></svg>
<div style="left:4.00px;top:96.78px;width:4.23px;height:4.23px;border:0.60px solid #565a5f;border-radius:0.55px"></div>
<div class="t" style="left:9.80px;top:98.02px;font-size:5.06px;line-height:5.06px;color:rgba(255,255,255,0.56);font-weight:normal;transform:scaleX(0.9091);transform-origin:0 50%;">Compliance Checklist</div>
<svg style="left:58.60px;top:97.52px" width="1.75" height="2.76" viewBox="0 0 3.8 6"><path d="M0.6 0.5 L3.1 3 L0.6 5.5" stroke="#9a9ea2" stroke-width="0.9" fill="none"/></svg>
<div style="left:4.00px;top:111.08px;width:4.23px;height:4.23px;border:0.60px solid #565a5f;border-radius:0.55px"></div>
<div class="t" style="left:9.80px;top:112.32px;font-size:5.06px;line-height:5.06px;color:rgba(255,255,255,0.56);font-weight:normal;transform:scaleX(0.9091);transform-origin:0 50%;">Policies</div>
<svg style="left:58.60px;top:111.82px" width="1.75" height="2.76" viewBox="0 0 3.8 6"><path d="M0.6 0.5 L3.1 3 L0.6 5.5" stroke="#9a9ea2" stroke-width="0.9" fill="none"/></svg>
<div style="left:4.00px;top:125.28px;width:4.23px;height:4.23px;border:0.60px solid #565a5f;border-radius:0.55px"></div>
<div class="t" style="left:9.80px;top:126.52px;font-size:5.06px;line-height:5.06px;color:rgba(255,255,255,0.56);font-weight:normal;transform:scaleX(0.9091);transform-origin:0 50%;">Licenses</div>
<svg style="left:58.60px;top:126.02px" width="1.75" height="2.76" viewBox="0 0 3.8 6"><path d="M0.6 0.5 L3.1 3 L0.6 5.5" stroke="#9a9ea2" stroke-width="0.9" fill="none"/></svg>
<div style="left:4.00px;top:139.18px;width:4.23px;height:4.23px;border:0.60px solid #565a5f;border-radius:0.55px"></div>
<div class="t" style="left:9.80px;top:140.42px;font-size:5.06px;line-height:5.06px;color:rgba(255,255,255,0.56);font-weight:normal;transform:scaleX(0.9091);transform-origin:0 50%;">Tracker</div>
<svg style="left:58.60px;top:139.92px" width="1.75" height="2.76" viewBox="0 0 3.8 6"><path d="M0.6 0.5 L3.1 3 L0.6 5.5" stroke="#9a9ea2" stroke-width="0.9" fill="none"/></svg>
<div style="left:4.00px;top:153.38px;width:4.23px;height:4.23px;border:0.60px solid #565a5f;border-radius:0.55px"></div>
<div class="t" style="left:9.80px;top:154.62px;font-size:5.06px;line-height:5.06px;color:rgba(255,255,255,0.56);font-weight:normal;transform:scaleX(0.9091);transform-origin:0 50%;">HR</div>
<svg style="left:58.60px;top:154.12px" width="1.75" height="2.76" viewBox="0 0 3.8 6"><path d="M0.6 0.5 L3.1 3 L0.6 5.5" stroke="#9a9ea2" stroke-width="0.9" fill="none"/></svg>
<div style="left:4.00px;top:167.18px;width:4.23px;height:4.23px;border:0.60px solid #565a5f;border-radius:0.55px"></div>
<div class="t" style="left:9.80px;top:168.42px;font-size:5.06px;line-height:5.06px;color:rgba(255,255,255,0.56);font-weight:normal;transform:scaleX(0.9091);transform-origin:0 50%;">Accounts</div>
<svg style="left:58.60px;top:167.92px" width="1.75" height="2.76" viewBox="0 0 3.8 6"><path d="M0.6 0.5 L3.1 3 L0.6 5.5" stroke="#9a9ea2" stroke-width="0.9" fill="none"/></svg>
<div style="left:72.00px;top:18.20px;width:276.30px;height:227.00px;border:0.6px solid #ececec;border-radius:2px;background:#fff"></div>
<div style="left:72.00px;top:18.20px;width:276.30px;height:11.60px;background:#fbeaea;border-bottom:0.6px solid #f0dede;border-radius:2px 2px 0 0"></div>
<svg style="left:76.20px;top:21.50px" width="5.00" height="5.00" viewBox="0 0 10 10"><rect x="0.5" y="1" width="9" height="8.5" rx="1" fill="#333"/><rect x="1.5" y="4" width="7" height="4.5" fill="#777"/></svg>
<div class="t" style="left:83.80px;top:23.15px;font-size:4.79px;line-height:4.79px;color:#333;font-weight:normal;transform:scaleX(0.9091);transform-origin:0 50%;">Incident information</div>
<div class="t" style="left:76.60px;top:37.42px;font-size:5.06px;line-height:5.06px;color:#333;font-weight:normal;transform:scaleX(0.9091);transform-origin:0 50%;">Entity*</div>
<div style="left:76.60px;top:44.20px;width:266.90px;height:11.20px;border:0.6px solid #ebebeb;border-radius:1.5px;background:#fff"></div>
<div class="t" style="left:80.30px;top:48.82px;font-size:5.06px;line-height:5.06px;color:#aaa;font-weight:normal;transform:scaleX(0.9091);transform-origin:0 50%;filter:blur(0.5px)">M Trust</div>
<svg style="left:336.20px;top:48.80px" width="2.6" height="1.8" viewBox="0 0 6 4"><path d="M0.5 0.5 L3 3 L5.5 0.5" stroke="#444" stroke-width="1" fill="none"/></svg>
<div class="t" style="left:76.60px;top:62.22px;font-size:5.06px;line-height:5.06px;color:#333;font-weight:normal;transform:scaleX(0.9091);transform-origin:0 50%;">Name*</div>
<div style="left:76.60px;top:69.20px;width:266.90px;height:10.50px;border:0.6px solid #ebebeb;border-radius:1.5px;background:#fff"></div>
<div class="t" style="left:80.30px;top:73.47px;font-size:5.06px;line-height:5.06px;color:#333;font-weight:normal;transform:scaleX(0.9091);transform-origin:0 50%;">The Ransomware attack</div>
<div class="t" style="left:76.60px;top:83.05px;font-size:4.57px;line-height:4.57px;color:#8a8a8a;font-weight:normal;transform:scaleX(0.9091);transform-origin:0 50%;">Its a one-sentence description of the incident and its nature</div>
<div class="t" style="left:76.60px;top:94.42px;font-size:5.06px;line-height:5.06px;color:#333;font-weight:normal;transform:scaleX(0.9091);transform-origin:0 50%;">Description</div>
<div style="left:76.60px;top:100.40px;width:266.90px;height:10.80px;border:0.6px solid #ebebeb;border-radius:1.5px;background:#fff"></div>
<div class="t" style="left:76.60px;top:115.45px;font-size:4.57px;line-height:4.57px;color:#8a8a8a;font-weight:normal;transform:scaleX(0.9091);transform-origin:0 50%;">Please add more information and clarifications about the incident to make it easier to identify it when sharing the information with other</div>
<div class="t" style="left:76.60px;top:121.95px;font-size:4.57px;line-height:4.57px;color:#8a8a8a;font-weight:normal;transform:scaleX(0.9091);transform-origin:0 50%;">stakeholders</div>
<div class="t" style="left:76.60px;top:133.52px;font-size:5.06px;line-height:5.06px;color:#333;font-weight:normal;transform:scaleX(0.9091);transform-origin:0 50%;">Status*</div>
<div style="left:76.60px;top:140.00px;width:266.90px;height:10.70px;border:0.6px solid #ebebeb;border-radius:1.5px;background:#fff"></div>
<div class="t" style="left:80.30px;top:144.37px;font-size:5.06px;line-height:5.06px;color:#333;font-weight:normal;transform:scaleX(0.9091);transform-origin:0 50%;">Investigating</div>
<svg style="left:336.20px;top:144.35px" width="2.6" height="1.8" viewBox="0 0 6 4"><path d="M0.5 0.5 L3 3 L5.5 0.5" stroke="#444" stroke-width="1" fill="none"/></svg>
<div class="t" style="left:76.60px;top:154.05px;font-size:4.57px;line-height:4.57px;color:#8a8a8a;font-weight:normal;transform:scaleX(0.9091);transform-origin:0 50%;">Current status of the incident</div>
<div class="t" style="left:76.60px;top:165.12px;font-size:5.06px;line-height:5.06px;color:#333;font-weight:normal;transform:scaleX(0.9091);transform-origin:0 50%;">Severity</div>
<div style="left:76.60px;top:171.90px;width:266.90px;height:10.60px;border:0.6px solid #ebebeb;border-radius:1.5px;background:#fff"></div>
<div class="t" style="left:80.30px;top:176.22px;font-size:5.06px;line-height:5.06px;color:#333;font-weight:normal;transform:scaleX(0.9091);transform-origin:0 50%;">Critical</div>
<svg style="left:336.20px;top:176.20px" width="2.6" height="1.8" viewBox="0 0 6 4"><path d="M0.5 0.5 L3 3 L5.5 0.5" stroke="#444" stroke-width="1" fill="none"/></svg>
<div class="t" style="left:76.60px;top:186.05px;font-size:4.57px;line-height:4.57px;color:#8a8a8a;font-weight:normal;transform:scaleX(0.9091);transform-origin:0 50%;">The severity level of the incident</div>
<div class="t" style="left:76.60px;top:197.22px;font-size:5.06px;line-height:5.06px;color:#333;font-weight:normal;transform:scaleX(0.9091);transform-origin:0 50%;">Solution plan</div>
<div style="left:76.60px;top:203.60px;width:266.90px;height:10.90px;border:0.6px solid #ebebeb;border-radius:1.5px;background:#fff"></div>
<div class="t" style="left:80.30px;top:208.07px;font-size:5.06px;line-height:5.06px;color:#333;font-weight:normal;transform:scaleX(0.9091);transform-origin:0 50%;">Reporting the attack, scan the server fix the vulnerabilities  , Get the Backup, Try the recovery tool</div>
<div class="t" style="left:76.60px;top:217.75px;font-size:4.57px;line-height:4.57px;color:#8a8a8a;font-weight:normal;transform:scaleX(0.9091);transform-origin:0 50%;">the solution plan to manage the incident</div>
<div class="t" style="left:76.60px;top:228.92px;font-size:5.06px;line-height:5.06px;color:#333;font-weight:normal;transform:scaleX(0.9091);transform-origin:0 50%;">Progress</div>
<div style="left:76.60px;top:235.50px;width:266.90px;height:12.70px;border:0.6px solid #ebebeb;border-radius:1.5px;background:#fff"></div>
</div>
</body></html>
